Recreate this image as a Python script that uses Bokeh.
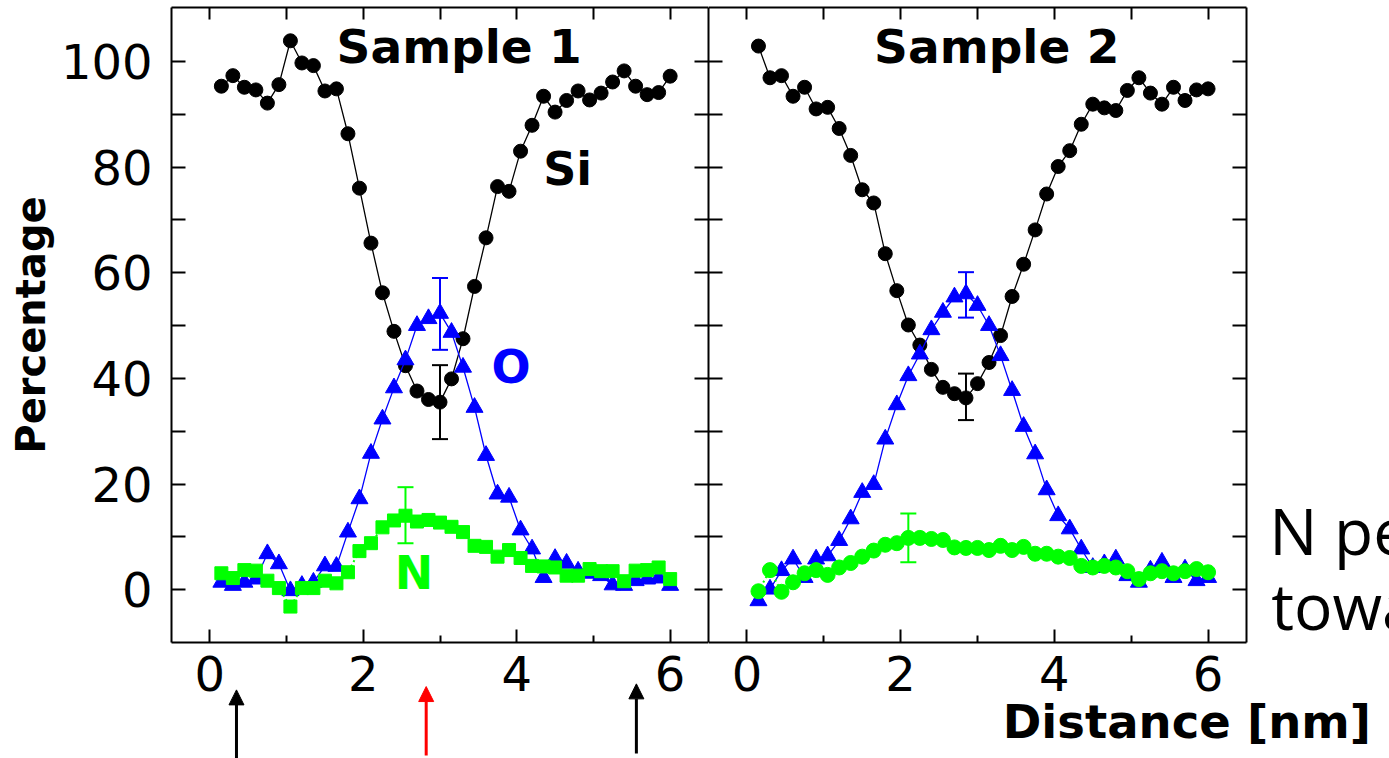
from bokeh.plotting import figure
from bokeh.layouts import row
from bokeh.models import (Range1d, LinearAxis, FixedTicker, Label, Arrow,
                          NormalHead, GridBox)
from bokeh.embed import file_html
from bokeh.resources import INLINE

# ---------------- data ----------------
distance = [0.15, 0.30, 0.45, 0.60, 0.75, 0.90, 1.05, 1.20, 1.35, 1.50,
            1.65, 1.80, 1.95, 2.10, 2.25, 2.40, 2.55, 2.70, 2.85, 3.00,
            3.15, 3.30, 3.45, 3.60, 3.75, 3.90, 4.05, 4.20, 4.35, 4.50,
            4.65, 4.80, 4.95, 5.10, 5.25, 5.40, 5.55, 5.70, 5.85, 6.00]

si_1 = [95.3, 97.3, 95.1, 94.6, 92.1, 95.6, 103.9, 99.7, 99.2, 94.4,
        94.8, 86.3, 76.0, 65.6, 56.2, 48.9, 42.4, 37.6, 36.0, 35.5,
        39.9, 47.5, 57.4, 66.6, 76.3, 75.4, 83.0, 87.9, 93.4, 90.4,
        92.6, 94.4, 92.7, 94.0, 96.1, 98.2, 95.3, 93.7, 94.1, 97.2]
o_1 = [1.4, 0.8, 1.4, 2.0, 6.8, 4.9, -0.2, 0.8, 1.4, 4.5,
       4.4, 10.9, 17.2, 25.8, 32.3, 38.2, 43.5, 50.0, 51.3, 52.3,
       48.7, 42.1, 34.5, 25.4, 18.1, 17.5, 11.3, 7.7, 2.3, 5.9,
       5.0, 3.5, 3.1, 2.65, 0.9, 0.8, 1.7, 2.0, 2.2, 0.8]
n_1 = [3.1, 2.2, 3.7, 3.6, 1.7, 0.3, -3.2, 0.3, 0.3, 1.7,
       1.2, 3.3, 7.3, 8.8, 11.8, 13.1, 14.0, 12.9, 13.2, 12.7,
       11.9, 10.9, 8.3, 8.1, 6.25, 7.5, 6.0, 4.5, 4.4, 4.2,
       2.65, 2.65, 3.9, 3.5, 3.5, 1.6, 3.6, 3.7, 4.2, 2.0]

si_2 = [102.9, 96.9, 97.3, 93.4, 95.1, 91.0, 91.3, 87.3, 82.2, 75.7,
        73.2, 63.6, 56.6, 50.1, 46.3, 41.7, 38.3, 37.1, 36.3, 39.0,
        43.0, 48.1, 55.5, 61.6, 68.1, 74.9, 80.1, 83.1, 88.1, 91.9,
        91.2, 90.7, 94.5, 96.9, 94.0, 91.9, 95.1, 92.6, 94.6, 94.8]
o_2 = [-2.1, 0.1, 3.6, 5.8, 2.3, 5.8, 6.4, 9.3, 13.4, 18.4,
       19.9, 28.5, 35.0, 40.5, 44.6, 49.2, 52.5, 55.4, 56.0, 53.8,
       50.0, 44.3, 37.7, 30.9, 25.7, 18.9, 14.0, 11.5, 7.7, 4.2,
       4.9, 5.8, 2.65, 1.4, 3.7, 5.2, 2.3, 3.9, 1.7, 2.3]
n_2 = [-0.3, 3.7, -0.4, 1.4, 3.1, 3.7, 2.8, 4.2, 5.05, 6.25,
       7.4, 8.5, 8.8, 9.8, 9.8, 9.6, 9.4, 8.0, 7.9, 7.9,
       7.5, 8.3, 7.5, 8.1, 6.8, 6.8, 6.25, 6.0, 4.5, 4.2,
       4.5, 4.2, 3.5, 2.0, 3.1, 3.5, 3.1, 3.5, 3.9, 3.3]

# error bars: position, centre value, half-width  (Si, O, N)
err1_x = [3.00, 3.00, 2.55]
err1_mid = [35.5, 52.2, 14.1]
err1_half = [7.0, 6.8, 5.3]
err2_x = [2.85, 2.85, 2.10]
err2_mid = [36.5, 55.8, 9.8]
err2_half = [4.4, 4.3, 4.6]

x_major = [0, 2, 4, 6]
x_minor = [1, 3, 5]
x_top = [0, 1, 2, 3, 4, 5, 6]
y_major = [0, 20, 40, 60, 80, 100]
y_minor = [10, 30, 50, 70, 90]

# arrows marking positions under the Sample 1 panel (Sample-1 distance units)
arrow_x = [0.347, 2.82, 5.56]
arrow_tip = [-18.97, -18.34, -17.83]
arrow_base = [-32.5, -31.4, -31.0]
arrow_color = ["black", "red", "black"]

SI_C = "black"
O_C = "#0000ff"
N_C = "#00ff00"
TICK_FONT = "DejaVu Sans"
BOLD_FONT = "DejaVu Sans"

# ---------------- layout geometry (pixels) ----------------
W, H = 1389, 758
LEFT_W, RIGHT_W = 708, 681
BORDER_L, BORDER_R, BORDER_T, BORDER_B = 171, 143, 7, 116
X_LO, X_HI = -0.5, 6.5
Y_LO, Y_HI = -10, 110.2


def style_axis(ax, ticks, minor, tin, mtin, labels=True):
    ax.ticker = FixedTicker(ticks=ticks, minor_ticks=minor)
    ax.major_tick_in = tin
    ax.major_tick_out = 0
    ax.minor_tick_in = mtin
    ax.minor_tick_out = 0
    ax.axis_line_width = 2
    ax.major_tick_line_width = 2
    ax.minor_tick_line_width = 2
    ax.axis_line_color = "black"
    if labels:
        ax.major_label_text_font = TICK_FONT
        ax.major_label_text_font_size = "48px"
        ax.major_label_text_color = "black"
    else:
        ax.major_label_text_color = None
        ax.major_label_text_font_size = "1px"
        ax.major_label_standoff = 0


def make_panel(w, bl, br, show_ylabels):
    p = figure(width=w, height=H,
               x_range=Range1d(X_LO, X_HI), y_range=Range1d(Y_LO, Y_HI),
               output_backend="svg", toolbar_location=None, title=None,
               min_border_left=bl, min_border_right=br,
               min_border_top=BORDER_T, min_border_bottom=BORDER_B,
               background_fill_color="white", border_fill_color="white")
    p.outline_line_color = None
    p.xgrid.visible = False
    p.ygrid.visible = False

    style_axis(p.xaxis[0], x_major, x_minor, 13, 7, True)
    p.xaxis[0].major_label_standoff = 13
    style_axis(p.yaxis[0], y_major, y_minor, 14, 14, show_ylabels)
    if show_ylabels:
        p.yaxis[0].major_label_standoff = 19
        p.yaxis[0].axis_label = "Percentage"
        p.yaxis[0].axis_label_text_font = BOLD_FONT
        p.yaxis[0].axis_label_text_font_style = "bold"
        p.yaxis[0].axis_label_text_font_size = "40px"
        p.yaxis[0].axis_label_standoff = 4
        p.yaxis[0].axis_label_text_color = "black"

    top = LinearAxis()
    style_axis(top, x_top, [], 12, 0, False)
    p.add_layout(top, "above")
    right = LinearAxis()
    style_axis(right, y_major, y_minor, 14, 14, False)
    p.add_layout(right, "right")
    return p


def add_text(p, x, y, text, size, color="black", font=BOLD_FONT,
             style="bold", align="left"):
    p.add_layout(Label(x=x, y=y, text=text, text_font=font,
                       text_font_style=style, text_font_size=size,
                       text_color=color, text_align=align,
                       text_baseline="middle"))


def add_series(p, si, o, n, n_marker, n_size, ex, emid, ehalf):
    p.line(distance, si, line_color=SI_C, line_width=1.3)
    p.scatter(distance, si, marker="circle", size=14,
              fill_color=SI_C, line_color=SI_C)
    p.line(distance, o, line_color=O_C, line_width=1.3)
    p.scatter(distance, o, marker="triangle", size=17,
              fill_color=O_C, line_color=O_C)
    p.line(distance, n, line_color=N_C, line_width=2, line_dash="2 3")
    p.scatter(distance, n, marker=n_marker, size=n_size,
              fill_color=N_C, line_color=N_C)
    for xx, mm, hh, cc in zip(ex, emid, ehalf, [SI_C, O_C, N_C]):
        p.segment(x0=[xx], y0=[mm - hh], x1=[xx], y1=[mm + hh],
                  line_color=cc, line_width=2)
        p.scatter([xx, xx], [mm - hh, mm + hh], marker="dash", size=16,
                  line_color=cc, line_width=2)


left = make_panel(LEFT_W, BORDER_L, 0, True)
right = make_panel(RIGHT_W, 0, BORDER_R, False)

add_text(left, 3.25, 102.9, "Sample 1", "47px", align="center")
add_text(right, 3.25, 102.9, "Sample 2", "47px", align="center")
add_text(left, 4.345, 79.7, "Si", "46px", SI_C)
add_text(left, 3.67, 42.2, "O", "46px", O_C)
add_text(left, 2.41, 3.07, "N", "46px", N_C)

add_series(left, si_1, o_1, n_1, "square", 13, err1_x, err1_mid, err1_half)
add_series(right, si_2, o_2, n_2, "circle", 15, err2_x, err2_mid, err2_half)

# ------- transparent overlay sharing the Sample-1 scales over the whole page
fw = LEFT_W - BORDER_L
fh = H - BORDER_T - BORDER_B
px_x = fw / (X_HI - X_LO)
px_y = fh / (Y_HI - Y_LO)
ov_x = Range1d(X_LO - BORDER_L / px_x, X_HI + (W - LEFT_W) / px_x)
ov_y = Range1d(Y_LO - BORDER_B / px_y, Y_HI + BORDER_T / px_y)
ov = figure(width=W, height=H, x_range=ov_x, y_range=ov_y,
            output_backend="svg", toolbar_location=None, title=None,
            x_axis_type=None, y_axis_type=None,
            min_border=0, background_fill_color=None, border_fill_color=None)
ov.outline_line_color = None
ov.grid.visible = False

for xx, yt, yb, cc in zip(arrow_x, arrow_tip, arrow_base, arrow_color):
    ov.add_layout(Arrow(end=NormalHead(size=15, fill_color=cc, line_color=cc),
                        x_start=xx, y_start=yb, x_end=xx, y_end=yt,
                        line_color=cc, line_width=3))

add_text(ov, 10.336, -25.0, "Distance [nm]", "46.5px")
add_text(ov, 13.81, 11.2, "N pe", "64px", font="Open Sans", style="normal")
add_text(ov, 13.835, -3.03, "towa", "64px", font="Open Sans", style="normal")

panels = row(left, right, spacing=0)
grid = GridBox(children=[(panels, 0, 0), (ov, 0, 0)], spacing=0)
open("out.html", "w").write(file_html(grid, INLINE))
